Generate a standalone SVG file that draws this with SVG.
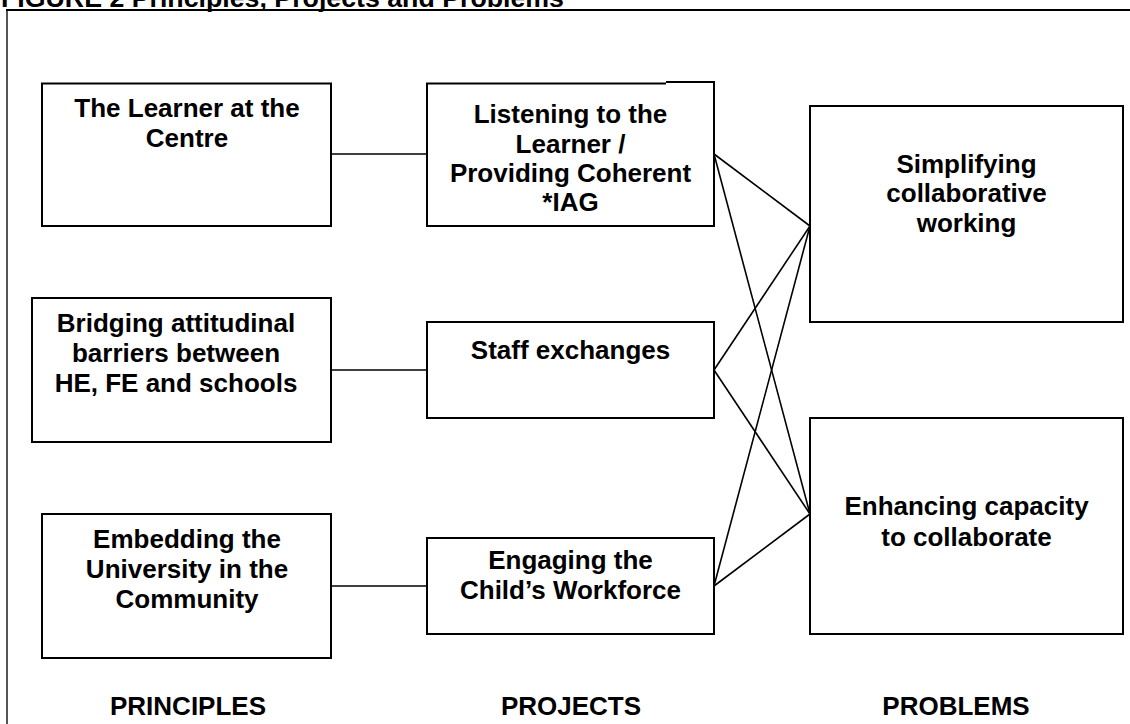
<svg xmlns="http://www.w3.org/2000/svg" width="1130" height="724" viewBox="0 0 1130 724">
<style>
  .box { fill: #ffffff; stroke: #000000; stroke-width: 2; }
  .lbl { font-family: "Liberation Sans", Arial, sans-serif; font-weight: bold; font-size: 26px; fill: #000000; text-anchor: middle; }
  .con line { stroke: #000000; stroke-width: 1.6; }
</style>
<rect width="1130" height="724" fill="#ffffff"/>
<g id="title">
  <text x="1" y="6.5" font-family="Liberation Sans, Arial, sans-serif" font-weight="bold" font-size="26.5" textLength="563" lengthAdjust="spacingAndGlyphs">FIGURE 2 Principles, Projects and Problems</text>
</g>
<g id="frame">
  <line x1="7" y1="10" x2="7" y2="724" stroke="#555555" stroke-width="2"/>
  <line x1="6" y1="10" x2="1130" y2="10" stroke="#000000" stroke-width="2"/>
</g>
<g id="connectors" class="con">
  <line x1="331" y1="154" x2="427" y2="154"/>
  <line x1="331" y1="370" x2="427" y2="370"/>
  <line x1="331" y1="586" x2="427" y2="586"/>
  <line x1="714" y1="154" x2="810" y2="226"/>
  <line x1="714" y1="154" x2="810" y2="514"/>
  <line x1="714" y1="370" x2="810" y2="226"/>
  <line x1="714" y1="370" x2="810" y2="514"/>
  <line x1="714" y1="586" x2="810" y2="226"/>
  <line x1="714" y1="586" x2="810" y2="514"/>
</g>
<g id="learner">
  <rect class="box" x="42" y="83.5" width="289" height="142.5"/>
  <text class="lbl" x="187" y="117">The Learner at the</text>
  <text class="lbl" x="187" y="147">Centre</text>
</g>
<g id="bridging">
  <rect class="box" x="32" y="298" width="299" height="144"/>
  <text class="lbl" x="176" y="332">Bridging attitudinal</text>
  <text class="lbl" x="176" y="362">barriers between</text>
  <text class="lbl" x="176" y="392">HE, FE and schools</text>
</g>
<g id="embedding">
  <rect class="box" x="42" y="514" width="289" height="144"/>
  <text class="lbl" x="187" y="548">Embedding the</text>
  <text class="lbl" x="187" y="578">University in the</text>
  <text class="lbl" x="187" y="608">Community</text>
</g>
<g id="listening">
  <path class="box" d="M666,82 H714 V226 H427 V83.5 H666"/>
  <text class="lbl" x="570.5" y="123">Listening to the</text>
  <text class="lbl" x="570.5" y="152.5">Learner /</text>
  <text class="lbl" x="570.5" y="181.5">Providing Coherent</text>
  <text class="lbl" x="570.5" y="210.5">*IAG</text>
</g>
<g id="staff">
  <rect class="box" x="427" y="322" width="287" height="96"/>
  <text class="lbl" x="570.5" y="359">Staff exchanges</text>
</g>
<g id="engaging">
  <rect class="box" x="427" y="538" width="287" height="96"/>
  <text class="lbl" x="570.5" y="569">Engaging the</text>
  <text class="lbl" x="570.5" y="599">Child’s Workforce</text>
</g>
<g id="simplifying">
  <rect class="box" x="810" y="106" width="313" height="216"/>
  <text class="lbl" x="966.5" y="172.5">Simplifying</text>
  <text class="lbl" x="966.5" y="202">collaborative</text>
  <text class="lbl" x="966.5" y="231.5">working</text>
</g>
<g id="enhancing">
  <rect class="box" x="810" y="418" width="313" height="216"/>
  <text class="lbl" x="966.5" y="515">Enhancing capacity</text>
  <text class="lbl" x="966.5" y="545.5">to collaborate</text>
</g>
<g id="column-labels">
  <text class="lbl" x="188" y="715">PRINCIPLES</text>
  <text class="lbl" x="571" y="715">PROJECTS</text>
  <text class="lbl" x="956" y="715">PROBLEMS</text>
</g>
</svg>
